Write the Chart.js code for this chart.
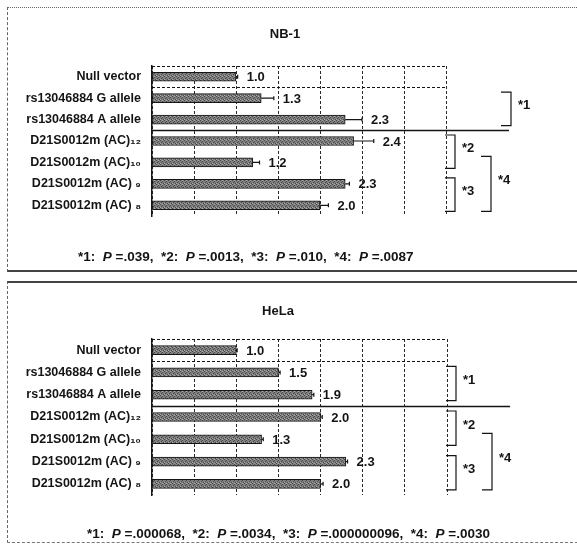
<!DOCTYPE html>
<html>
<head>
<meta charset="utf-8">
<script src="https://cdn.jsdelivr.net/npm/chart.js@4"></script>
<style>
  body { margin: 0; background: #fff; width: 577px; height: 544px; overflow: hidden; position: relative; }
  .panel { position: absolute; left: 7px; width: 575px; }
  #p1 { top: 7px; height: 262px; border-top: 1px dotted #666; border-left: 1px dashed #666; border-bottom: 2px solid #444; }
  #p2 { top: 281px; height: 259px; border-top: 2px solid #444; border-left: 1px dashed #666; border-bottom: 1px dashed #777; }
  canvas { position: absolute; left: 0; top: 0; }
</style>
</head>
<body>
<div class="panel" id="p1"><canvas id="chartNb1" width="569" height="262"></canvas></div>
<div class="panel" id="p2"><canvas id="chartHela" width="569" height="259"></canvas></div>
<script>
// Categorías (mismas para los dos paneles)
const categories = [
    'Null vector',
    'rs13046884 G allele',
    'rs13046884 A allele',
    'D21S0012m (AC)\u2081\u2082',
    'D21S0012m (AC)\u2081\u2080',
    'D21S0012m (AC) \u2089',
    'D21S0012m (AC) \u2088'
];

// NB-1
const nb1Values = [1.0, 1.3, 2.3, 2.4, 1.2, 2.3, 2.0];
const nb1Errors = [0.02, 0.15, 0.2, 0.24, 0.08, 0.05, 0.1];
const nb1PValues = ['.039', '.0013', '.010', '.0087'];
// [desde, hasta, etiqueta, nivel]
const nb1Brackets = [[1, 2, '*1', 2], [3, 4, '*2', 0], [5, 6, '*3', 0], [4, 6, '*4', 1]];

// HeLa
const helaValues = [1.0, 1.5, 1.9, 2.0, 1.3, 2.3, 2.0];
const helaErrors = [0.01, 0.02, 0.02, 0.02, 0.02, 0.02, 0.03];
const helaPValues = ['.000068', '.0034', '.000000096', '.0030'];
const helaBrackets = [[1, 2, '*1', 0], [3, 4, '*2', 0], [5, 6, '*3', 0], [4, 6, '*4', 1]];

const axisMax = 3.5;
const axisStep = 0.5;

const FONT = '"Liberation Sans", Arial, sans-serif';
const ink = '#141414';

// Relleno gris punteado como el de la figura escaneada
const makeBarPattern = () => {
    const c = document.createElement('canvas');
    c.width = 4; c.height = 4;
    const g = c.getContext('2d');
    g.fillStyle = '#808080';
    g.fillRect(0, 0, 4, 4);
    g.fillStyle = '#474747';
    [[0, 0], [2, 1], [1, 2], [3, 3]].forEach(([px, py]) => g.fillRect(px, py, 1, 1));
    g.fillStyle = '#a8a8a8';
    [[2, 0], [0, 3]].forEach(([px, py]) => g.fillRect(px, py, 1, 1));
    return g.createPattern(c, 'repeat');
};

// Plugin para título, barras de error, valores, separadores, corchetes y pie
const extrasPlugin = {
    id: 'extras',
    afterDatasetsDraw(chart, args, opts) {
        const { ctx, chartArea: a, scales: { x, y } } = chart;
        const rowY = i => y.getPixelForValue(i);
        ctx.save();
        ctx.strokeStyle = ink;
        ctx.fillStyle = ink;

        // borde superior punteado
        ctx.lineWidth = 1;
        ctx.setLineDash([3, 2]);
        ctx.beginPath();
        ctx.moveTo(a.left, a.top + 0.5);
        ctx.lineTo(a.right, a.top + 0.5);
        ctx.stroke();

        // separadores horizontales
        opts.separators.forEach(s => {
            const yy = Math.round((rowY(s.after) + rowY(s.after + 1)) / 2) + 0.5;
            ctx.setLineDash(s.dash);
            ctx.lineWidth = s.width;
            ctx.beginPath();
            ctx.moveTo(a.left, yy);
            ctx.lineTo(a.right + s.extend, yy);
            ctx.stroke();
        });
        ctx.setLineDash([]);

        // barras de error y valores
        ctx.lineWidth = 1.2;
        ctx.font = 'bold 13px ' + FONT;
        ctx.textBaseline = 'middle';
        ctx.textAlign = 'left';
        opts.values.forEach((v, i) => {
            const yy = rowY(i);
            const x0 = x.getPixelForValue(v);
            const x1 = x.getPixelForValue(v + opts.errors[i]);
            ctx.beginPath();
            ctx.moveTo(x0, yy);
            ctx.lineTo(x1, yy);
            ctx.moveTo(x1, yy - 2);
            ctx.lineTo(x1, yy + 2);
            ctx.stroke();
            ctx.fillText(v.toFixed(1), x1 + 9, yy + 1);
        });

        // corchetes de significancia
        const levels = [9, 45, 65];
        ctx.lineWidth = 1.2;
        opts.brackets.forEach(([from, to, label, level]) => {
            const top = rowY(from) - 6;
            const bot = rowY(to) + 6;
            const xr = a.right + levels[level];
            ctx.beginPath();
            ctx.moveTo(xr - 10, top);
            ctx.lineTo(xr, top);
            ctx.lineTo(xr, bot);
            ctx.lineTo(xr - 10, bot);
            ctx.stroke();
            ctx.fillText(label, xr + 7, (top + bot) / 2 - 3);
        });

        // título
        ctx.textAlign = 'center';
        ctx.font = 'bold 13px ' + FONT;
        ctx.fillText(opts.title, opts.titleX, opts.titleY);

        // pie con valores P (P en cursiva)
        ctx.textAlign = 'left';
        let fx = opts.footerX;
        const plain = 'bold 13.5px ' + FONT;
        const italic = 'italic bold 13.5px ' + FONT;
        opts.pValues.forEach((p, i) => {
            const parts = [
                [`*${i + 1}:  `, plain],
                ['P', italic],
                [` =${p}` + (i < opts.pValues.length - 1 ? ',  ' : ''), plain]
            ];
            parts.forEach(([t, f]) => {
                ctx.font = f;
                ctx.fillText(t, fx, opts.footerY);
                fx += ctx.measureText(t).width;
            });
        });
        ctx.restore();
    }
};

const createPanel = (canvasId, cfg) => {
    const canvas = document.getElementById(canvasId);
    const W = canvas.width, H = canvas.height;
    return new Chart(canvas.getContext('2d'), {
        type: 'bar',
        data: {
            labels: categories,
            datasets: [{
                data: cfg.values,
                backgroundColor: makeBarPattern(),
                borderColor: ink,
                borderWidth: 1,
                borderSkipped: false,
                barThickness: 9
            }]
        },
        options: {
            indexAxis: 'y',
            responsive: false,
            animation: false,
            devicePixelRatio: 1,
            layout: { padding: { left: 0, right: W - cfg.right, top: cfg.top, bottom: H - cfg.bottom } },
            scales: {
                x: {
                    min: 0,
                    max: axisMax,
                    ticks: { display: false, stepSize: axisStep },
                    grid: { color: '#2a2a2a', lineWidth: 1, drawTicks: false },
                    border: { display: false, dash: [3, 2] }
                },
                y: {
                    ticks: {
                        color: ink,
                        padding: 3,
                        font: { family: FONT, size: 12.5, weight: 'bold' }
                    },
                    grid: { display: false },
                    border: { color: ink, width: 1.5 },
                    afterFit: scale => { scale.width = cfg.left; }
                }
            },
            plugins: {
                legend: { display: false },
                tooltip: { enabled: false },
                extras: {
                    title: cfg.title,
                    titleX: cfg.titleX,
                    titleY: cfg.titleY,
                    values: cfg.values,
                    errors: cfg.errors,
                    brackets: cfg.brackets,
                    pValues: cfg.pValues,
                    footerX: cfg.footerX,
                    footerY: cfg.footerY,
                    separators: [
                        { after: 0, dash: [3, 2], width: 1, extend: 0 },
                        { after: 2, dash: [], width: 1.5, extend: 63 }
                    ]
                }
            }
        },
        plugins: [extrasPlugin]
    });
};

createPanel('chartNb1', {
    title: 'NB-1', titleX: 277, titleY: 26,
    values: nb1Values, errors: nb1Errors, brackets: nb1Brackets, pValues: nb1PValues,
    left: 144, right: 438, top: 58, bottom: 208,
    footerX: 70, footerY: 249
});

createPanel('chartHela', {
    title: 'HeLa', titleX: 270, titleY: 28,
    values: helaValues, errors: helaErrors, brackets: helaBrackets, pValues: helaPValues,
    left: 144, right: 439, top: 56, bottom: 212,
    footerX: 79, footerY: 251
});
</script>
</body>
</html>
